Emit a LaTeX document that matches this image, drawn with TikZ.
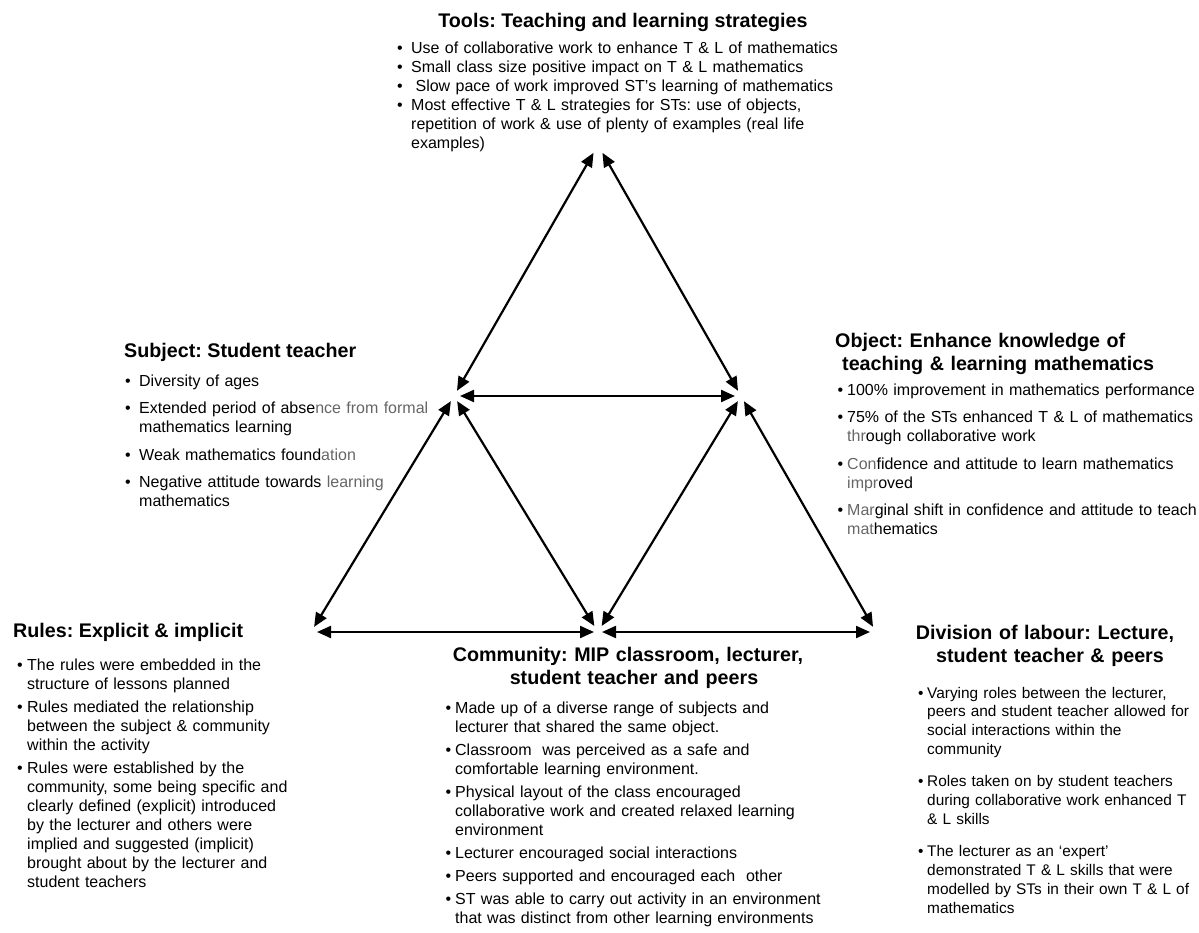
\documentclass[tikz,border=0pt]{standalone}
\usepackage{fontspec}
\setmainfont{Liberation Sans}
\usetikzlibrary{arrows.meta}

% bullet list helpers: \bind is the hanging indent of each item
\newlength{\bind}
\newcommand{\bitem}[1]{\hangindent=\bind\hangafter=1\noindent\makebox[\bind][l]{\textbullet}#1\par}
\newcommand{\nl}{\newline}
\definecolor{txtgray}{gray}{0.4}

\begin{document}
\frenchspacing
\begin{tikzpicture}[x=1pt,y=-1pt,
  link/.style={{Triangle[length=14pt,width=12pt]}-{Triangle[length=14pt,width=12pt]},
               line width=2.2pt, shorten <=6pt, shorten >=6pt},
  ttl/.style={inner sep=0pt, font=\fontsize{19.7}{23}\selectfont\bfseries\frenchspacing},
  lst/.style={anchor=base west, inner sep=0pt, text width=#1,
              font=\fontsize{16}{19}\selectfont\frenchspacing}
]
\useasboundingbox (0,0) rectangle (1199,933);

% vertices of the activity system
\coordinate (T) at (598,145);
\coordinate (S) at (454,396);
\coordinate (O) at (741,396);
\coordinate (R) at (311,632);
\coordinate (C) at (598,632);
\coordinate (D) at (876,632);

% connectors
\draw[link, shorten >=9pt] (S) -- (T);
\draw[link, shorten >=9pt] (O) -- (T);
\draw[link] (S) -- (O);
\draw[link] (R) -- (S);
\draw[link, shorten <=7pt] (C) -- (S);
\draw[link, shorten <=7pt] (C) -- (O);
\draw[link] (D) -- (O);
\draw[link, shorten >=4pt] (R) -- (C);
\draw[link, shorten <=4pt] (C) -- (D);

% Tools
\node[ttl, anchor=base] (toolsT) at (623,28) {Tools: Teaching and learning strategies};
\node[lst=450pt] (toolsL) at (397,54) {\setlength{\bind}{14pt}\setlength{\parskip}{0pt}%
  \bitem{Use of collaborative work to enhance T \& L of mathematics}
  \bitem{Small class size positive impact on T \& L mathematics}
  \bitem{\hspace*{4.4pt}Slow pace of work improved ST’s learning of mathematics}
  \bitem{Most effective T \& L strategies for STs: use of objects,\nl
         repetition of work \& use of plenty of examples (real life\nl examples)}};

% Subject
\node[ttl, anchor=base west] (subjT) at (124,357) {Subject: Student teacher};
\node[lst=330pt] (subjL) at (125,386) {\setlength{\bind}{14pt}\setlength{\parskip}{8.5pt}%
  \bitem{Diversity of ages}
  \bitem{Extended period of abse\textcolor{txtgray}{nce from formal}\nl mathematics learning}
  \bitem{Weak mathematics found\textcolor{txtgray}{ation}}
  \bitem{Negative attitude towards \textcolor{txtgray}{learning}\nl mathematics}};

% Object
\node[ttl, anchor=base west, text width=360pt, align=left] (objT) at (835,347)
  {Object: Enhance knowledge of\\ \hspace*{7pt}teaching \& learning mathematics};
\node[lst=370pt] (objL) at (837.5,395) {\setlength{\bind}{9.5pt}\setlength{\parskip}{8.5pt}%
  \bitem{100\% improvement in mathematics performance}
  \bitem{75\% of the STs enhanced T \& L of mathematics\nl \textcolor{txtgray}{thr}ough collaborative work}
  \bitem{\textcolor{txtgray}{Con}fidence and attitude to learn mathematics\nl \textcolor{txtgray}{impr}oved}
  \bitem{\textcolor{txtgray}{Mar}ginal shift in confidence and attitude to teach\nl \textcolor{txtgray}{mat}hematics}};

% Rules
\node[ttl, anchor=base west] (rulesT) at (13,637) {Rules: Explicit \& implicit};
\node[lst=300pt] (rulesL) at (17,670) {\setlength{\bind}{10pt}\setlength{\parskip}{4pt}%
  \bitem{The rules were embedded in the\nl structure of lessons planned}
  \bitem{Rules mediated the relationship\nl between the subject \& community\nl within the activity}
  \bitem{Rules were established by the\nl community, some being specific and\nl clearly defined (explicit) introduced\nl
         by the lecturer and others were\nl implied and suggested (implicit)\nl brought about by the lecturer and\nl student teachers}};

% Community
\node[ttl, anchor=base, text width=400pt, align=center] (commT) at (628,661)
  {Community: MIP classroom, lecturer,\\ \hspace*{12pt}student teacher and peers};
\node[lst=400pt] (commL) at (445.5,713) {\setlength{\bind}{9.5pt}\setlength{\parskip}{4pt}%
  \bitem{Made up of a diverse range of subjects and\nl lecturer that shared the same object.}
  \bitem{Classroom\ \ was perceived as a safe and\nl comfortable learning environment.}
  \bitem{Physical layout of the class encouraged\nl collaborative work and created relaxed learning\nl environment}
  \bitem{Lecturer encouraged social interactions}
  \bitem{Peers supported and encouraged each\ \ other}
  \bitem{ST was able to carry out activity in an environment\nl that was distinct from other learning environments}};

% Division of labour
\node[ttl, anchor=base, text width=320pt, align=center] (divT) at (1045,639)
  {Division of labour: Lecture,\\ \hspace*{10pt}student teacher \& peers};
\node[lst=280pt, font=\fontsize{15.4}{18.7}\selectfont\frenchspacing] (divL) at (918,698)
  {\setlength{\bind}{9pt}\setlength{\parskip}{14pt}%
  \bitem{Varying roles between the lecturer,\nl peers and student teacher allowed for\nl social interactions within the\nl community}
  \bitem{Roles taken on by student teachers\nl during collaborative work enhanced T\nl \& L skills}
  \bitem{The lecturer as an ‘expert’\nl demonstrated T \& L skills that were\nl modelled by STs in their own T \& L of\nl mathematics}};
\end{tikzpicture}
\end{document}
